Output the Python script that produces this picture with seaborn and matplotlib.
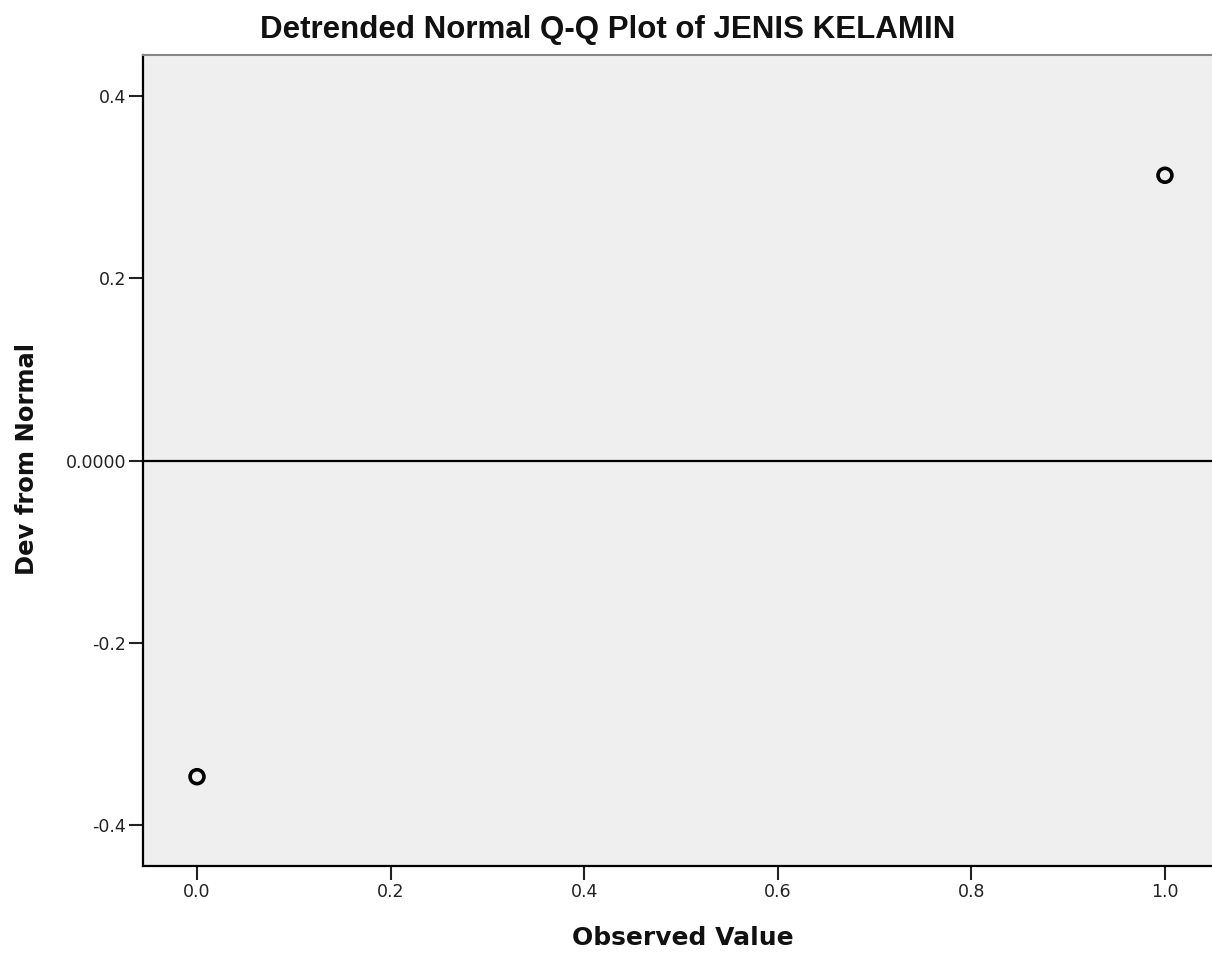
import matplotlib
matplotlib.use("Agg")
import matplotlib.pyplot as plt
import seaborn as sns
import pandas as pd

observed = [0.0, 1.0]
dev_from_normal = [-0.347, 0.313]
x_ticks = [0.0, 0.2, 0.4, 0.6, 0.8, 1.0]
y_ticks = [-0.4, -0.2, 0.0, 0.2, 0.4]
y_tick_labels = ["-0.4", "-0.2", "0.0000", "0.2", "0.4"]

sns.set_theme(style="white")
plt.rcParams['font.family'] = ['DejaVu Sans']

df = pd.DataFrame({"Observed Value": observed, "Dev from Normal": dev_from_normal})

fig = plt.figure(figsize=(12.12, 9.58), dpi=100)
ax = fig.add_axes([143/1212, 92/958, 1 - 143/1212, (866-55)/958])
ax.set_facecolor("#efefef")

ax.axhline(0, color="black", linewidth=1.6, zorder=1)
sns.scatterplot(data=df, x="Observed Value", y="Dev from Normal", ax=ax,
                marker="o", s=100, facecolor="none", edgecolor="black",
                linewidth=2.6, zorder=3, legend=False)

ax.set_xlim(-0.0558, 1.0486)
ax.set_ylim(-0.445, 0.445)
ax.set_xticks(x_ticks)
ax.set_xticklabels([f"{v:.1f}" for v in x_ticks])
ax.set_yticks(y_ticks)
ax.set_yticklabels(y_tick_labels)

ax.tick_params(axis="both", which="major", direction="out", length=10,
               width=1.5, color="#222222", labelsize=12.5, labelcolor="#222222",
               pad=2, bottom=True, left=True)

for side in ["left", "bottom"]:
    ax.spines[side].set_color("black")
    ax.spines[side].set_linewidth(1.6)
ax.spines["top"].set_color("#888888")
ax.spines["top"].set_linewidth(1.5)
ax.spines["right"].set_visible(False)

ax.set_xlabel("Observed Value", fontsize=18, fontweight="bold", color="#111111", va="center")
ax.set_ylabel("Dev from Normal", fontsize=17.5, fontweight="bold", color="#111111", va="center")
ax.xaxis.set_label_coords((683 - 143) / 1069, (866 - 938) / 811)
ax.yaxis.set_label_coords((27 - 143) / 1069, (866 - 459) / 811)

fig.text(608/1212, 1 - 30/958, "Detrended Normal Q-Q Plot of JENIS KELAMIN",
         ha="center", va="center", fontsize=22.5, fontweight="bold", color="#111111",
         family=["Liberation Sans", "DejaVu Sans"])

fig.savefig("out.png", dpi=100, facecolor="white")
